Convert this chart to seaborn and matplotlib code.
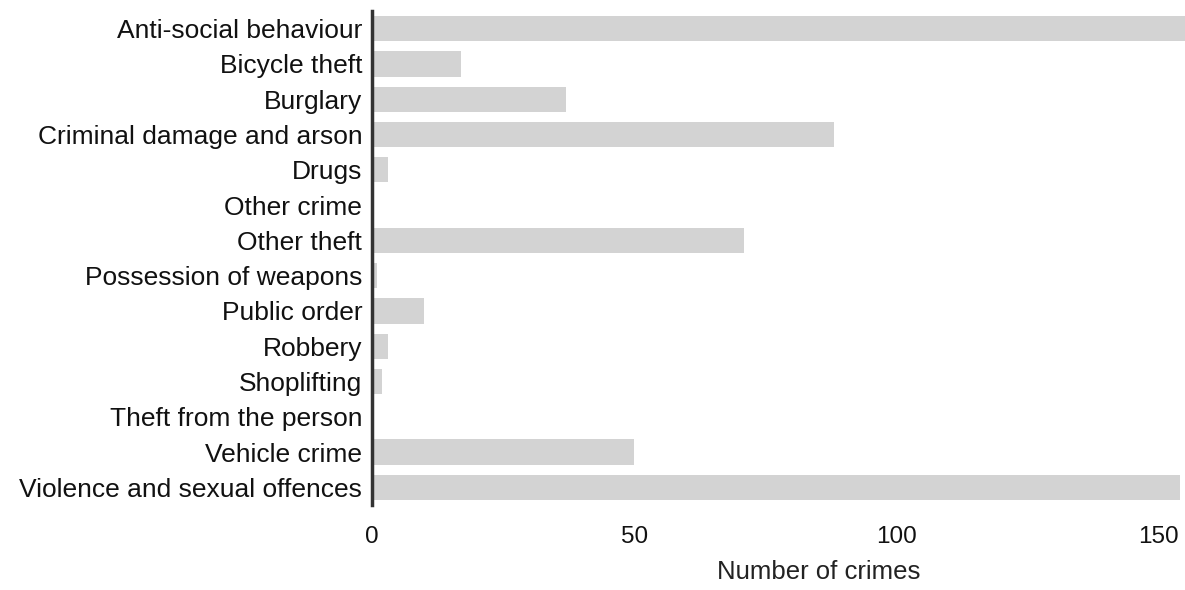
import matplotlib
matplotlib.use("Agg")
import matplotlib.pyplot as plt
import seaborn as sns
import pandas as pd

categories = [
    "Anti-social behaviour", "Bicycle theft", "Burglary", "Criminal damage and arson",
    "Drugs", "Other crime", "Other theft", "Possession of weapons", "Public order",
    "Robbery", "Shoplifting", "Theft from the person", "Vehicle crime",
    "Violence and sexual offences",
]
counts = [160, 17, 37, 88, 3, 0, 71, 1, 10, 3, 2, 0, 50, 154]
x_ticks = [0, 50, 100, 150]

df = pd.DataFrame({"category": categories, "count": counts})

sns.set_style("white")
plt.rcParams["font.family"] = ["Liberation Sans", "DejaVu Sans"]

W, H = 1185, 590
fig = plt.figure(figsize=(W / 100, H / 100), dpi=100)
left, right, top, bottom = 372, 1185, 11, 505
ax = fig.add_axes([left / W, (H - bottom) / H, (right - left) / W, (bottom - top) / H])

sns.barplot(data=df, y="category", x="count", orient="h", color="#d3d3d3",
            saturation=1, width=0.72, ax=ax, edgecolor="none")

ax.set_xlim(0, 155)
ax.set_ylim(13.5, -0.5)
ax.set_xticks(x_ticks)
ax.set_xticklabels([str(t) for t in x_ticks])
ax.tick_params(axis="y", length=0, pad=7, labelsize=19, labelcolor="#111111")
ax.tick_params(axis="x", length=0, pad=15, labelsize=17.5, labelcolor="#111111")
ax.set_ylabel("")
ax.set_xlabel("Number of crimes", fontsize=18.5, color="#222222")
ax.xaxis.set_label_coords(0.55, -0.112)

for s in ["top", "right", "bottom"]:
    ax.spines[s].set_visible(False)
ax.spines["left"].set_color("#333333")
ax.spines["left"].set_linewidth(2.5)

fig.savefig("out.png", dpi=100, facecolor="white")
